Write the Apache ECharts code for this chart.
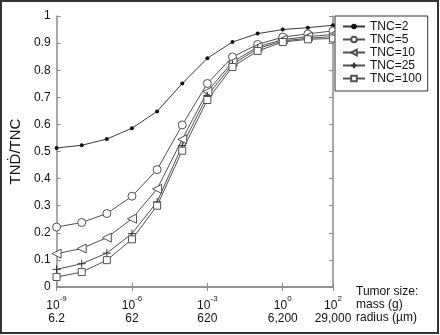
<!DOCTYPE html>
<html>
<head>
<meta charset="utf-8">
<script src="https://cdn.jsdelivr.net/npm/echarts@6/dist/echarts.min.js"></script>
<style>
html,body{margin:0;padding:0;background:#fff;}
#chart{width:440px;height:335px;}
</style>
</head>
<body>
<div id="chart"></div>
<script>
// Tumor mass (g), one point per decade
var masses = [1e-9, 1e-8, 1e-7, 1e-6, 1e-5, 1e-4, 1e-3, 1e-2, 1e-1, 1, 10, 100];
var seriesNames = ['TNC=2', 'TNC=5', 'TNC=10', 'TNC=25', 'TNC=100'];
var tnc2   = [0.513, 0.523, 0.546, 0.586, 0.648, 0.751, 0.844, 0.904, 0.935, 0.950, 0.957, 0.966];
var tnc5   = [0.221, 0.238, 0.271, 0.335, 0.433, 0.598, 0.751, 0.849, 0.895, 0.922, 0.934, 0.945];
var tnc10  = [0.123, 0.142, 0.182, 0.252, 0.362, 0.545, 0.721, 0.830, 0.886, 0.913, 0.924, 0.932];
var tnc25  = [0.065, 0.086, 0.125, 0.197, 0.314, 0.522, 0.706, 0.821, 0.880, 0.908, 0.918, 0.924];
var tnc100 = [0.037, 0.055, 0.099, 0.176, 0.300, 0.503, 0.690, 0.812, 0.871, 0.904, 0.914, 0.917];
// x tick labels
var xTickValues = [1e-9, 1e-6, 1e-3, 1, 100];
var xTickExponents = ['-9', '-6', '-3', '0', '2'];
var xTickRadius = ['6.2', '62', '620', '6,200', '29,000'];

var FONT = 'Liberation Sans, Arial, Helvetica, sans-serif';
var AXIS_COLOR = '#8c8c8c';
var LINE_COLOR = '#505050';

function pairs(vals) {
  return masses.map(function (m, i) { return [m, vals[i]]; });
}
function findTick(v) {
  for (var i = 0; i < xTickValues.length; i++) {
    if (Math.abs(Math.log10(v) - Math.log10(xTickValues[i])) < 1e-6) return i;
  }
  return -1;
}

var chart = echarts.init(document.getElementById('chart'), null, {renderer: 'canvas'});

function mkSeries(name, data, symbol, size, extra) {
  var s = {
    name: name,
    type: 'line',
    data: pairs(data),
    xAxisIndex: 0,
    yAxisIndex: 0,
    symbol: symbol,
    symbolSize: size,
    showAllSymbol: true,
    lineStyle: {color: LINE_COLOR, width: 1},
    itemStyle: {color: '#fff', borderColor: LINE_COLOR, borderWidth: 1},
    emphasis: {disabled: true},
    animation: false
  };
  if (extra) { for (var k in extra) s[k] = extra[k]; }
  return s;
}

var option = {
  animation: false,
  textStyle: {fontFamily: FONT},
  grid: {left: 53, right: 107, top: 16, bottom: 48, containLabel: false},
  legend: {
    show: true,
    orient: 'vertical',
    left: 335,
    top: 16,
    padding: [4, 6, 6, 7],
    itemWidth: 22,
    itemHeight: 7,
    itemGap: 0,
    borderColor: '#333',
    borderWidth: 1,
    backgroundColor: '#fff',
    textStyle: {fontFamily: FONT, fontSize: 12, color: '#111', lineHeight: 13},
    data: seriesNames
  },
  xAxis: [
    {
      type: 'log',
      logBase: 10,
      min: 1e-9,
      max: 100,
      position: 'bottom',
      axisLine: {show: true, lineStyle: {color: AXIS_COLOR, width: 1.5}},
      axisTick: {show: true, inside: true, length: 4, customValues: xTickValues, lineStyle: {color: AXIS_COLOR}},
      minorTick: {show: false},
      splitLine: {show: false},
      axisLabel: {
        customValues: xTickValues,
        margin: 8,
        color: '#111',
        fontFamily: FONT,
        formatter: function (v) {
          var i = findTick(v);
          if (i < 0) return '';
          return '{b|10}{s|' + xTickExponents[i] + '}\n{r|' + xTickRadius[i] + '}';
        },
        rich: {
          b: {fontSize: 12, lineHeight: 12, verticalAlign: 'bottom', fontFamily: FONT, color: '#111'},
          s: {fontSize: 8, lineHeight: 17, verticalAlign: 'top', fontFamily: FONT, color: '#111'},
          r: {fontSize: 12, lineHeight: 13, fontFamily: FONT, color: '#111'}
        }
      }
    },
    {
      type: 'log',
      logBase: 10,
      min: 1e-9,
      max: 100,
      position: 'top',
      axisLine: {show: true, lineStyle: {color: AXIS_COLOR, width: 1.5}},
      axisTick: {show: true, inside: true, length: 4, customValues: xTickValues, lineStyle: {color: AXIS_COLOR}},
      axisLabel: {show: false},
      splitLine: {show: false}
    }
  ],
  yAxis: [
    {
      type: 'value',
      min: 0,
      max: 1,
      interval: 0.1,
      position: 'left',
      name: 'TNḊ/TNC',
      nameLocation: 'middle',
      nameRotate: 90,
      nameGap: 27,
      nameTextStyle: {fontFamily: FONT, fontSize: 15, color: '#111'},
      axisLine: {show: true, lineStyle: {color: AXIS_COLOR, width: 1.5}},
      axisTick: {show: true, inside: true, length: 4, lineStyle: {color: AXIS_COLOR}},
      splitLine: {show: false},
      axisLabel: {
        margin: 6,
        fontSize: 12,
        color: '#111',
        fontFamily: FONT,
        formatter: function (v) {
          var r = Math.round(v * 10) / 10;
          return r === 0 ? '0' : (r === 1 ? '1' : r.toFixed(1));
        }
      }
    },
    {
      type: 'value',
      min: 0,
      max: 1,
      interval: 0.1,
      position: 'right',
      axisLine: {show: true, lineStyle: {color: AXIS_COLOR, width: 1.5}},
      axisTick: {show: true, inside: true, length: 4, lineStyle: {color: AXIS_COLOR}},
      axisLabel: {show: false},
      splitLine: {show: false}
    }
  ],
  graphic: [
    {
      type: 'rect',
      silent: true,
      z: 100,
      shape: {x: 1, y: 1, width: 437, height: 332},
      style: {fill: 'none', stroke: '#333', lineWidth: 2}
    },
    {
      type: 'text',
      silent: true,
      left: 356,
      top: 285,
      style: {
        text: 'Tumor size:\nmass (g)\nradius (µm)',
        font: '12px ' + FONT,
        lineHeight: 13,
        fill: '#111'
      }
    }
  ],
  series: [
    mkSeries('TNC=2', tnc2, 'circle', 4, {itemStyle: {color: '#111', borderColor: '#111', borderWidth: 0}, lineStyle: {color: '#3a3a3a', width: 1}}),
    mkSeries('TNC=5', tnc5, 'circle', 8),
    mkSeries('TNC=10', tnc10, 'triangle', 9, {symbolRotate: 90}),
    mkSeries('TNC=25', tnc25, 'path://M0,5L10,5M5,0L5,10', 8, {itemStyle: {color: 'none', borderColor: '#333', borderWidth: 1}}),
    mkSeries('TNC=100', tnc100, 'rect', 7)
  ]
};
chart.setOption(option);
</script>
</body>
</html>
